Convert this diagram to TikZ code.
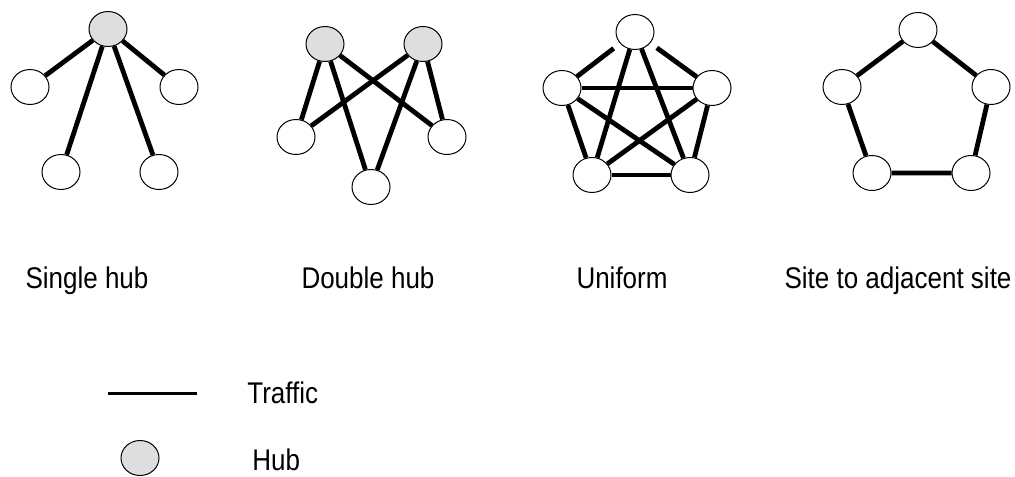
\documentclass[tikz,border=0pt]{standalone}
\usepackage{fontspec}
\setmainfont{Liberation Sans}
\usetikzlibrary{shapes.geometric}

% captions are set a little taller than the plain font
\newcommand{\tall}[1]{\scalebox{1}[1.15]{#1}}

\tikzset{
  site/.style={ellipse, draw, line width=0.5pt, minimum width=19pt, minimum height=17.5pt, inner sep=0pt},
  hub/.style={site, fill=black!13},
  traffic/.style={line width=2.4pt},
  caption/.style={anchor=base, font=\fontsize{13}{15}\selectfont}
}

\begin{document}
\begin{tikzpicture}[x=0.5pt, y=-0.5pt]
        \useasboundingbox (0,0) rectangle (1015,476);

        % Single hub
        \node[hub]  (s_hub) at (108, 29) {};
        \node[site] (s_l)   at (30, 87) {};
        \node[site] (s_r)   at (179, 87) {};
        \node[site] (s_bl)  at (61, 172) {};
        \node[site] (s_br)  at (159, 172) {};

        \draw[traffic] (s_hub) -- (s_l);
        \draw[traffic] (s_hub) -- (s_r);
        \draw[traffic] (s_hub) -- (s_bl);
        \draw[traffic] (s_hub) -- (s_br);

        % Double hub
        \node[hub]  (d_hub1) at (325, 44) {};
        \node[hub]  (d_hub2) at (423, 44) {};
        \node[site] (d_l)    at (296, 137) {};
        \node[site] (d_r)    at (447, 137) {};
        \node[site] (d_b)    at (371, 187) {};

        \draw[traffic] (d_hub1) -- (d_l);
        \draw[traffic] (d_hub1) -- (d_b);
        \draw[traffic] (d_hub1) -- (d_r);
        \draw[traffic] (d_hub2) -- (d_l);
        \draw[traffic] (d_hub2) -- (d_b);
        \draw[traffic] (d_hub2) -- (d_r);

        % Uniform: every site talks to every other one
        \node[site] (u_t)  at (635, 32) {};
        \node[site] (u_l)  at (562, 88) {};
        \node[site] (u_r)  at (712, 88) {};
        \node[site] (u_bl) at (592, 175) {};
        \node[site] (u_br) at (690, 175) {};

        \draw[traffic, shorten <=4pt] (u_t) -- (u_l);
        \draw[traffic, shorten <=4pt] (u_t) -- (u_r);
        \foreach \a/\b in {t/bl, t/br, l/r, l/bl, l/br, r/bl, r/br, bl/br}
            \draw[traffic] (u_\a) -- (u_\b);

        % Site to adjacent site
        \node[site] (a_t)  at (918, 30) {};
        \node[site] (a_l)  at (842, 87) {};
        \node[site] (a_r)  at (991, 87) {};
        \node[site] (a_bl) at (872, 173) {};
        \node[site] (a_br) at (971, 173) {};

        \draw[traffic] (a_t) -- (a_r) -- (a_br) -- (a_bl) -- (a_l) -- (a_t);

        % Captions
        \node[caption] (s_cap) at (87, 288) {\tall{Single hub}};
        \node[caption] (d_cap) at (368, 288) {\tall{Double hub}};
        \node[caption] (u_cap) at (622, 288) {\tall{Uniform}};
        \node[caption] (a_cap) at (898, 288) {\tall{Site to adjacent site}};

        % Legend
        \coordinate (key_a) at (108, 393);
        \coordinate (key_b) at (197, 393);
        \draw[line width=1.5pt] (key_a) -- (key_b);
        \node[caption, anchor=base west, inner sep=0pt] (key_traffic) at (247, 403) {\tall{Traffic}};

        \node[hub] (key_hub) at (140, 458) {};
        \node[caption, anchor=base west, inner sep=0pt] (key_hubtext) at (252, 470) {\tall{Hub}};
\end{tikzpicture}
\end{document}
